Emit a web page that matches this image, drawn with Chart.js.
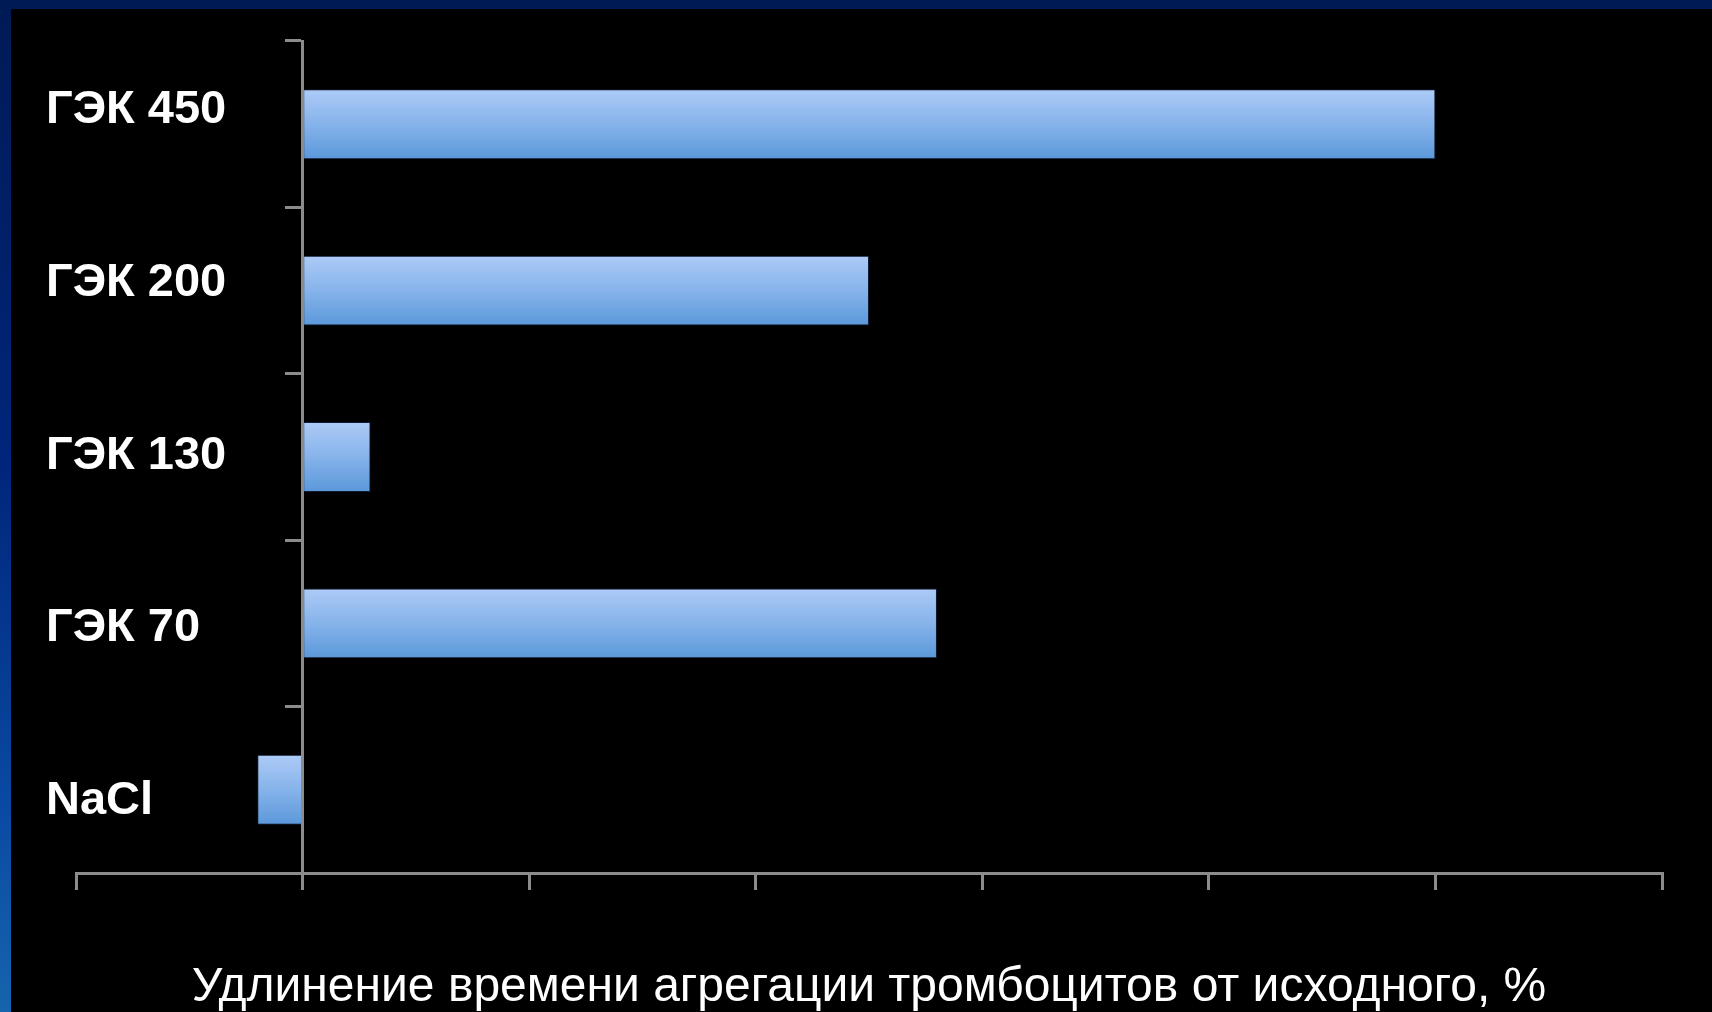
<!DOCTYPE html>
<html>
<head>
<meta charset="utf-8">
<script src="https://cdn.jsdelivr.net/npm/chart.js@4.4.1/dist/chart.umd.min.js"></script>
<style>
  html, body { margin: 0; padding: 0; }
  body {
    width: 1712px; height: 1012px; overflow: hidden; position: relative;
    background: linear-gradient(to bottom, #001a55 0%, #00257a 45%, #0a4aa3 80%, #1664ad 100%);
  }
  #panel { position: absolute; left: 11px; top: 9px; width: 1701px; height: 1003px; background: #000; }
  canvas { display: block; }
</style>
</head>
<body>
<div id="panel"><canvas id="hesChart" width="1701" height="1003"></canvas></div>
<script>
  // data
  var categories = ["ГЭК 450", "ГЭК 200", "ГЭК 130", "ГЭК 70", "NaCl"];
  var values = [50, 25, 3, 28, -2];
  var xTitle = "Удлинение времени агрегации тромбоцитов от исходного, %";

  var axisGrey = "#8c8c8c";
  var barShare = 0.42;

  // vertical light-to-dark fill, worked out per bar
  function barFill(c) {
    var chart = c.chart;
    if (c.type !== "data" || !chart.chartArea) return "#86b3ea";
    var y = chart.scales.y;
    var mid = y.getPixelForValue(c.dataIndex);
    var h = (y.height / categories.length) * barShare / 2;
    var g = chart.ctx.createLinearGradient(0, mid - h, 0, mid + h);
    g.addColorStop(0, "#adcbf7");
    g.addColorStop(0.5, "#86b3ea");
    g.addColorStop(1, "#5b98da");
    return g;
  }

  var ctx = document.getElementById("hesChart").getContext("2d");
  var chart = new Chart(ctx, {
    type: "bar",
    data: {
      labels: categories,
      datasets: [
        {
          data: values,
          backgroundColor: barFill,
          borderColor: "rgba(30, 50, 90, 0.6)",
          borderWidth: 1,
          barPercentage: barShare,
          categoryPercentage: 1,
        },
      ],
    },
    options: {
      indexAxis: "y",
      responsive: false,
      animation: false,
      layout: { padding: { left: 36, right: 50, top: 32, bottom: 0 } },
      plugins: {
        legend: { display: false },
        tooltip: { enabled: false },
      },
      scales: {
        x: {
          min: -10,
          max: 60,
          ticks: { display: false, stepSize: 10 },
          grid: { drawOnChartArea: false, color: axisGrey, lineWidth: 3, tickLength: 17 },
          border: { color: axisGrey, width: 3 },
          title: {
            display: true,
            text: xTitle,
            color: "#ffffff",
            font: { family: "'Liberation Sans', Arial, sans-serif", size: 48, lineHeight: 1 },
            padding: { top: 74, bottom: 0 },
          },
        },
        y: {
          type: "category",
          position: { x: 0 },
          offset: true,
          ticks: { display: false },
          grid: { offset: true, drawOnChartArea: false, color: axisGrey, lineWidth: 3, tickLength: 16 },
          border: { color: axisGrey, width: 3 },
        },
        // text labels sit on their own evenly spaced track, like the slide
        yl: {
          type: "linear",
          position: "left",
          reverse: true,
          offset: false,
          bounds: "data",
          min: -0.40,
          max: 4.415,
          afterFit: function (scale) { scale.width = 29; },
          afterBuildTicks: function (scale) {
            scale.ticks = categories.map(function (c, i) { return { value: i }; });
          },
          grid: { display: false, offset: false },
          border: { display: false },
          ticks: {
            mirror: true,
            padding: -30,
            color: "#ffffff",
            font: { family: "'Liberation Sans', Arial, sans-serif", size: 47, weight: "bold" },
            callback: function (v) { return categories[v]; },
          },
        },
      },
    },
  });
</script>
</body>
</html>
